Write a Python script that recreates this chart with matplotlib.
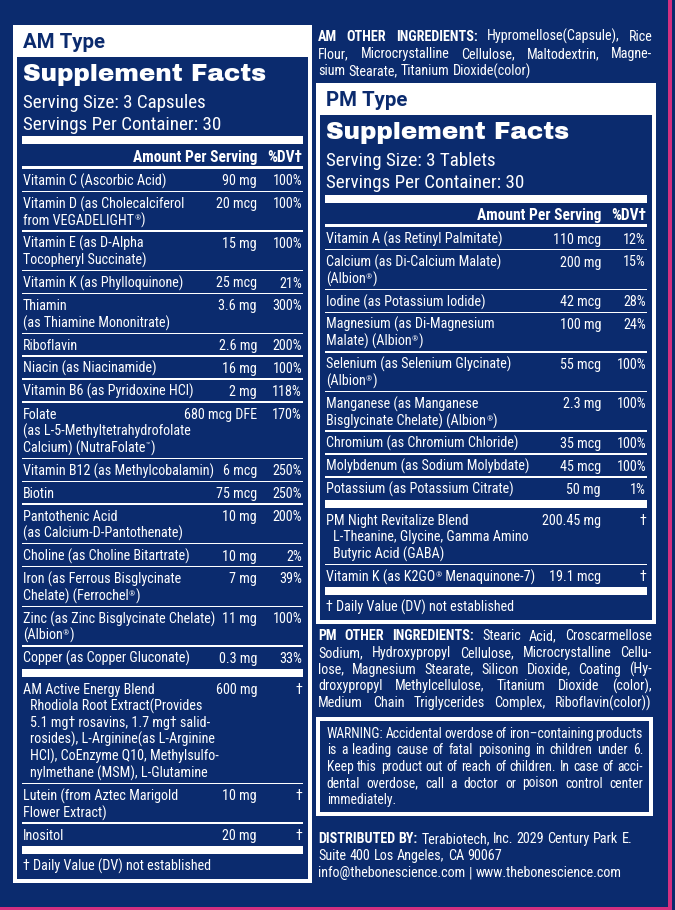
import matplotlib
matplotlib.use('Agg')
import matplotlib.pyplot as plt
from matplotlib import font_manager as fm
from matplotlib.patches import Rectangle
import matplotlib.patheffects as pe

# ---------------- data ----------------
AM_LABEL = "AM Type"
AM_SERVING = "Serving Size: 3 Capsules"
AM_SERVINGS = "Servings Per Container: 30"
AM_NAMES = [
    "Vitamin C (Ascorbic Acid)",
    "Vitamin D (as Cholecalciferol\nfrom VEGADELIGHT®)",
    "Vitamin E (as D-Alpha\nTocopheryl Succinate)",
    "Vitamin K (as Phylloquinone)",
    "Thiamin\n(as Thiamine Mononitrate)",
    "Riboflavin",
    "Niacin (as Niacinamide)",
    "Vitamin B6 (as Pyridoxine HCl)",
    "Folate\n(as L-5-Methyltetrahydrofolate\nCalcium) (NutraFolate™)",
    "Vitamin B12 (as Methylcobalamin)",
    "Biotin",
    "Pantothenic Acid\n(as Calcium-D-Pantothenate)",
    "Choline (as Choline Bitartrate)",
    "Iron (as Ferrous Bisglycinate\nChelate) (Ferrochel®)",
    "Zinc (as Zinc Bisglycinate Chelate)\n(Albion®)",
    "Copper (as Copper Gluconate)",
    "AM Active Energy Blend",
    "Lutein (from Aztec Marigold\nFlower Extract)",
    "Inositol",
]
AM_AMOUNTS = ["90 mg", "20 mcg", "15 mg", "25 mcg", "3.6 mg", "2.6 mg", "16 mg",
              "2 mg", "680 mcg DFE", "6 mcg", "75 mcg", "10 mg", "10 mg", "7 mg",
              "11 mg", "0.3 mg", "600 mg", "10 mg", "20 mg"]
AM_DV = ["100%", "100%", "100%", "21%", "300%", "200%", "100%", "118%", "170%",
         "250%", "250%", "200%", "2%", "39%", "100%", "33%", "†", "†", "†"]
AM_SECTION = [0] * 16 + [1, 1, 1]
AM_BLEND_ROW = 16
AM_BLEND_LINES = [
    "Rhodiola Root Extract(Provides",
    "5.1 mg† rosavins, 1.7 mg† salid-",
    "rosides), L-Arginine(as L-Arginine",
    "HCl), CoEnzyme Q10, Methylsulfo-",
    "nylmethane (MSM), L-Glutamine",
]

PM_LABEL = "PM Type"
PM_SERVING = "Serving Size: 3 Tablets"
PM_SERVINGS = "Servings Per Container: 30"
PM_NAMES = [
    "Vitamin A (as Retinyl Palmitate)",
    "Calcium (as Di-Calcium Malate)\n(Albion®)",
    "Iodine (as Potassium Iodide)",
    "Magnesium (as Di-Magnesium\nMalate) (Albion®)",
    "Selenium (as Selenium Glycinate)\n(Albion®)",
    "Manganese (as Manganese\nBisglycinate Chelate) (Albion®)",
    "Chromium (as Chromium Chloride)",
    "Molybdenum (as Sodium Molybdate)",
    "Potassium (as Potassium Citrate)",
    "PM Night Revitalize Blend",
    "Vitamin K (as K2GO® Menaquinone-7)",
]
PM_AMOUNTS = ["110 mcg", "200 mg", "42 mcg", "100 mg", "55 mcg", "2.3 mg",
              "35 mcg", "45 mcg", "50 mg", "200.45 mg", "19.1 mcg"]
PM_DV = ["12%", "15%", "28%", "24%", "100%", "100%", "100%", "100%", "1%", "†", "†"]
PM_SECTION = [0] * 9 + [1, 1]
PM_BLEND_ROW = 9
PM_BLEND_LINES = ["L-Theanine, Glycine, Gamma Amino", "Butyric Acid (GABA)"]

HEAD_AMOUNT = "Amount Per Serving"
HEAD_DV = "%DV†"
TITLE = "Supplement Facts"
FOOTNOTE = "† Daily Value (DV) not established"

AM_OTHER = [
    [("AM OTHER INGREDIENTS:", 'bold'), ("Hypromellose(Capsule), Rice", 'normal')],
    [("Flour, Microcrystalline Cellulose, Maltodextrin, Magne-", 'normal')],
    [("sium Stearate, Titanium Dioxide(color)", 'normal')],
]
PM_OTHER = [
    [("PM OTHER INGREDIENTS:", 'bold'), ("Stearic Acid, Croscarmellose", 'normal')],
    [("Sodium, Hydroxypropyl Cellulose, Microcrystalline Cellu-", 'normal')],
    [("lose, Magnesium Stearate, Silicon Dioxide, Coating (Hy-", 'normal')],
    [("droxypropyl Methylcellulose, Titanium Dioxide (color),", 'normal')],
    [("Medium Chain Triglycerides Complex, Riboflavin(color))", 'normal')],
]
WARNING = [
    [("WARNING: Accidental overdose of iron–containing products", 'normal')],
    [("is a leading cause of fatal poisoning in children under 6.", 'normal')],
    [("Keep this product out of reach of children. In case of acci-", 'normal')],
    [("dental overdose, call a doctor or poison control center", 'normal')],
    [("immediately.", 'normal')],
]
DISTRIBUTED = [
    [("DISTRIBUTED BY:", 'bold'), ("Terabiotech, Inc. 2029 Century Park E.", 'normal')],
    [("Suite 400 Los Angeles, CA 90067", 'normal')],
    [("info@thebonescience.com | www.thebonescience.com", 'normal')],
]

# ---------------- style ----------------
W, H, DPI = 675, 910, 100
NAVY = '#0b2b6e'
PINK = '#d3307f'
WHITE = '#ffffff'
SUPS = "®™"

TT = fm.fontManager.ttflist
_names = {f.name for f in TT}


def _weights(name):
    out = set()
    for f in TT:
        if f.name == name:
            try:
                out.add(int(f.weight))
            except (TypeError, ValueError):
                out.add(str(f.weight))
    return out


COND = 'Liberation Sans'
for cand in ['Roboto Condensed', 'PT Sans Narrow', 'Archivo Narrow',
             'Liberation Sans Narrow', 'Open Sans Condensed', 'Fira Sans Condensed',
             'IBM Plex Sans Condensed', 'Barlow Semi Condensed']:
    if cand in _names:
        COND = cand
        break
CFAM = [COND, 'DejaVu Sans']
CBOLD = 'bold'

if 'Archivo Black' in _names:
    TFAM, TWEIGHT, TSTROKE = ['Archivo Black', 'DejaVu Sans'], 'normal', 0.0
elif 'Roboto' in _names and 900 in _weights('Roboto'):
    TFAM, TWEIGHT, TSTROKE = ['Roboto', 'DejaVu Sans'], 900, 0.6
else:
    TFAM, TWEIGHT, TSTROKE = ['DejaVu Sans'], 'bold', 0.9
LFAM = ['Roboto', 'DejaVu Sans'] if 'Roboto' in _names else ['DejaVu Sans']

fig = plt.figure(figsize=(W / DPI, H / DPI), dpi=DPI)
fig.patch.set_facecolor(NAVY)
ax = fig.add_axes([0, 0, 1, 1])
ax.set_xlim(0, W)
ax.set_ylim(H, 0)
ax.axis('off')
renderer = fig.canvas.get_renderer()


def rect(x0, y0, x1, y1, color, z=1):
    ax.add_patch(Rectangle((x0, y0), x1 - x0, y1 - y0, facecolor=color,
                           edgecolor='none', zorder=z))


def txt(x, y, s, size, ha='left', weight='normal', family=None, color=WHITE, **kw):
    return ax.text(x, y, s, fontsize=size, ha=ha, va='baseline', fontweight=weight,
                   family=family or CFAM, color=color, zorder=5, **kw)


def width(s, size, weight='normal', family=None):
    t = txt(0, 0, s, size, weight=weight, family=family)
    w = t.get_window_extent(renderer).width
    t.remove()
    return w


def fit(s, target_px, weight='normal', family=None):
    return 10.0 * target_px / width(s, 10.0, weight, family)


def pieces(s):
    """split a string into (text, is_superscript) parts"""
    out, cur = [], ""
    for ch in s:
        if ch in SUPS:
            if cur:
                out.append((cur, False))
                cur = ""
            out.append((ch, True))
        else:
            cur += ch
    if cur:
        out.append((cur, False))
    return out


def sup_width(s, size):
    tot = 0.0
    for p, sup in pieces(s):
        tot += width(p, size * (0.55 if sup else 1.0))
    return tot + 0.6 * sum(1 for _, sp in pieces(s) if sp)


def sup_text(x, y, s, size):
    """left aligned line with small raised ® / ™ marks"""
    for p, sup in pieces(s):
        if sup:
            txt(x + 0.3, y - size * 0.42, p, size * 0.55)
            x += width(p, size * 0.55) + 0.6
        else:
            txt(x, y, p, size)
            x += width(p + "|", size) - width("|", size)


def words_of(segments):
    return [(w, wt) for s, wt in segments for w in s.split()]


GAPMIN = 0.6


def tight(segments, size):
    ws = words_of(segments)
    space = width("a a", size) - width("aa", size)
    return sum(width(w, size, wt) for w, wt in ws) + GAPMIN * space * (len(ws) - 1)


def block_size(lines, avail, base):
    s = base
    for segs in lines:
        s = min(s, 10.0 * avail / tight(segs, 10.0))
    return s


# sizes fitted to the widths measured on the reference label
BODY = fit("Vitamin C (Ascorbic Acid)", 143)
SERV = fit("Serving Size: 3 Capsules", 182)
HEADS = fit(HEAD_AMOUNT, 124, CBOLD)
TSIZE = fit(TITLE, 244, TWEIGHT, TFAM)
LSIZE = fit(AM_LABEL, 82, 'bold', LFAM)


def para_line(xl, xr, base, segments, size, justify):
    words = words_of(segments)
    ws = [width(w, size, wt) for w, wt in words]
    space = width("a a", size) - width("aa", size)
    gap = space
    if justify and len(words) > 1:
        gap = (xr - xl - sum(ws)) / (len(words) - 1)
        gap = max(gap, GAPMIN * space)
    x = xl
    for (w, wt), wd in zip(words, ws):
        txt(x, base, w, size, weight=wt)
        x += wd + gap


def block(lines, xl, xr, y0, step, base_size, mode):
    size = block_size(lines, xr - xl, base_size)
    for k, segs in enumerate(lines):
        if mode == 'all':
            j = True
        elif mode == 'not_last':
            j = k < len(lines) - 1
        else:
            j = False
        para_line(xl, xr, y0 + k * step, segs, size, j)


FIRST, ROW, LINE, BAR = 16.8, 22.9, 16.75, 8.0


def panel(ox0, ox1, oy0, label, serving, servings, names, amounts, dvs,
          sections, blend_row, blend_lines):
    ix0, ix1 = ox0 + 4, ox1 - 4
    iy0 = oy0 + 32
    left = ix0 + 6
    bl, br = ix0 + 5, ix1 - 5
    amt_r = ix1 - 51
    dv_r = ix1 - 6

    txt(left, oy0 + 22.5, label, LSIZE, weight='bold', family=LFAM, color=NAVY)
    kw = {}
    if TSTROKE:
        kw['path_effects'] = [pe.withStroke(linewidth=TSTROKE, foreground=WHITE)]
    txt(left, iy0 + 23.8, TITLE, TSIZE, weight=TWEIGHT, family=TFAM, **kw)
    txt(left, iy0 + 50.5, serving, SERV)
    txt(left, iy0 + 73.0, servings, SERV)
    rect(bl, iy0 + 79.3, br, iy0 + 87.3, WHITE, 3)
    txt(amt_r, iy0 + 104.8, HEAD_AMOUNT, HEADS, ha='right', weight=CBOLD)
    txt(dv_r, iy0 + 104.8, HEAD_DV, HEADS, ha='right', weight=CBOLD)
    rect(bl, iy0 + 108.5, br, iy0 + 111.5, WHITE, 3)

    y = iy0 + 111.5
    prev = sections[0]
    first = True
    for i, name in enumerate(names):
        if sections[i] != prev:
            rect(bl, y, br, y + BAR, WHITE, 3)
            y += BAR
            prev = sections[i]
            first = True
        if not first:
            rect(bl, y - 0.7, br, y + 0.7, WHITE, 3)
        first = False
        lines = name.split('\n')
        extra = blend_lines if i == blend_row else []
        b = y + FIRST
        amt_w = width(amounts[i], BODY)
        for k, ln in enumerate(lines):
            size = BODY
            room = (amt_r - amt_w - 7 - left) if k == 0 else (dv_r - left)
            wln = sup_width(ln, size)
            if wln > room:
                size = size * room / wln
            sup_text(left, b + k * LINE, ln, size)
        for k, ln in enumerate(extra):
            txt(left + 7, b + (len(lines) + k) * LINE, ln, BODY)
        txt(amt_r, b, amounts[i], BODY, ha='right')
        txt(dv_r, b, dvs[i], BODY, ha='right')
        n = len(lines) + len(extra)
        y += ROW + LINE * (n - 1)
    rect(bl, y, br, y + BAR, WHITE, 3)
    y += BAR
    foot = y + 16.5
    txt(left, foot, FOOTNOTE, BODY)
    ibot = foot + 8
    rect(ox0, oy0, ox1, ibot + 4, WHITE, 1)
    rect(ix0, iy0, ix1, ibot, NAVY, 2)


panel(13, 312, 25, AM_LABEL, AM_SERVING, AM_SERVINGS, AM_NAMES, AM_AMOUNTS,
      AM_DV, AM_SECTION, AM_BLEND_ROW, AM_BLEND_LINES)
panel(316, 656, 83.3, PM_LABEL, PM_SERVING, PM_SERVINGS, PM_NAMES, PM_AMOUNTS,
      PM_DV, PM_SECTION, PM_BLEND_ROW, PM_BLEND_LINES)

# other ingredients
block(AM_OTHER, 318.3, 652.5, 40.7, 17.2, BODY, 'not_last')
block(PM_OTHER, 318.3, 651.7, 640, 16.8, BODY, 'all')

# warning box
rect(316, 716.7, 653.3, 816, WHITE, 1)
rect(320.3, 720.7, 649.3, 812, NAVY, 2)
block(WARNING, 326.7, 643, 737.7, 16.6, BODY, 'not_last')

# distributor
block(DISTRIBUTED, 318.3, 651.5, 843.3, 17.0, BODY, 'none')

# pink edges
rect(668.3, 0, 671.7, H, PINK, 4)
rect(0, 907.3, 671.7, H, PINK, 4)

fig.savefig('out.png', dpi=DPI, facecolor=NAVY)
